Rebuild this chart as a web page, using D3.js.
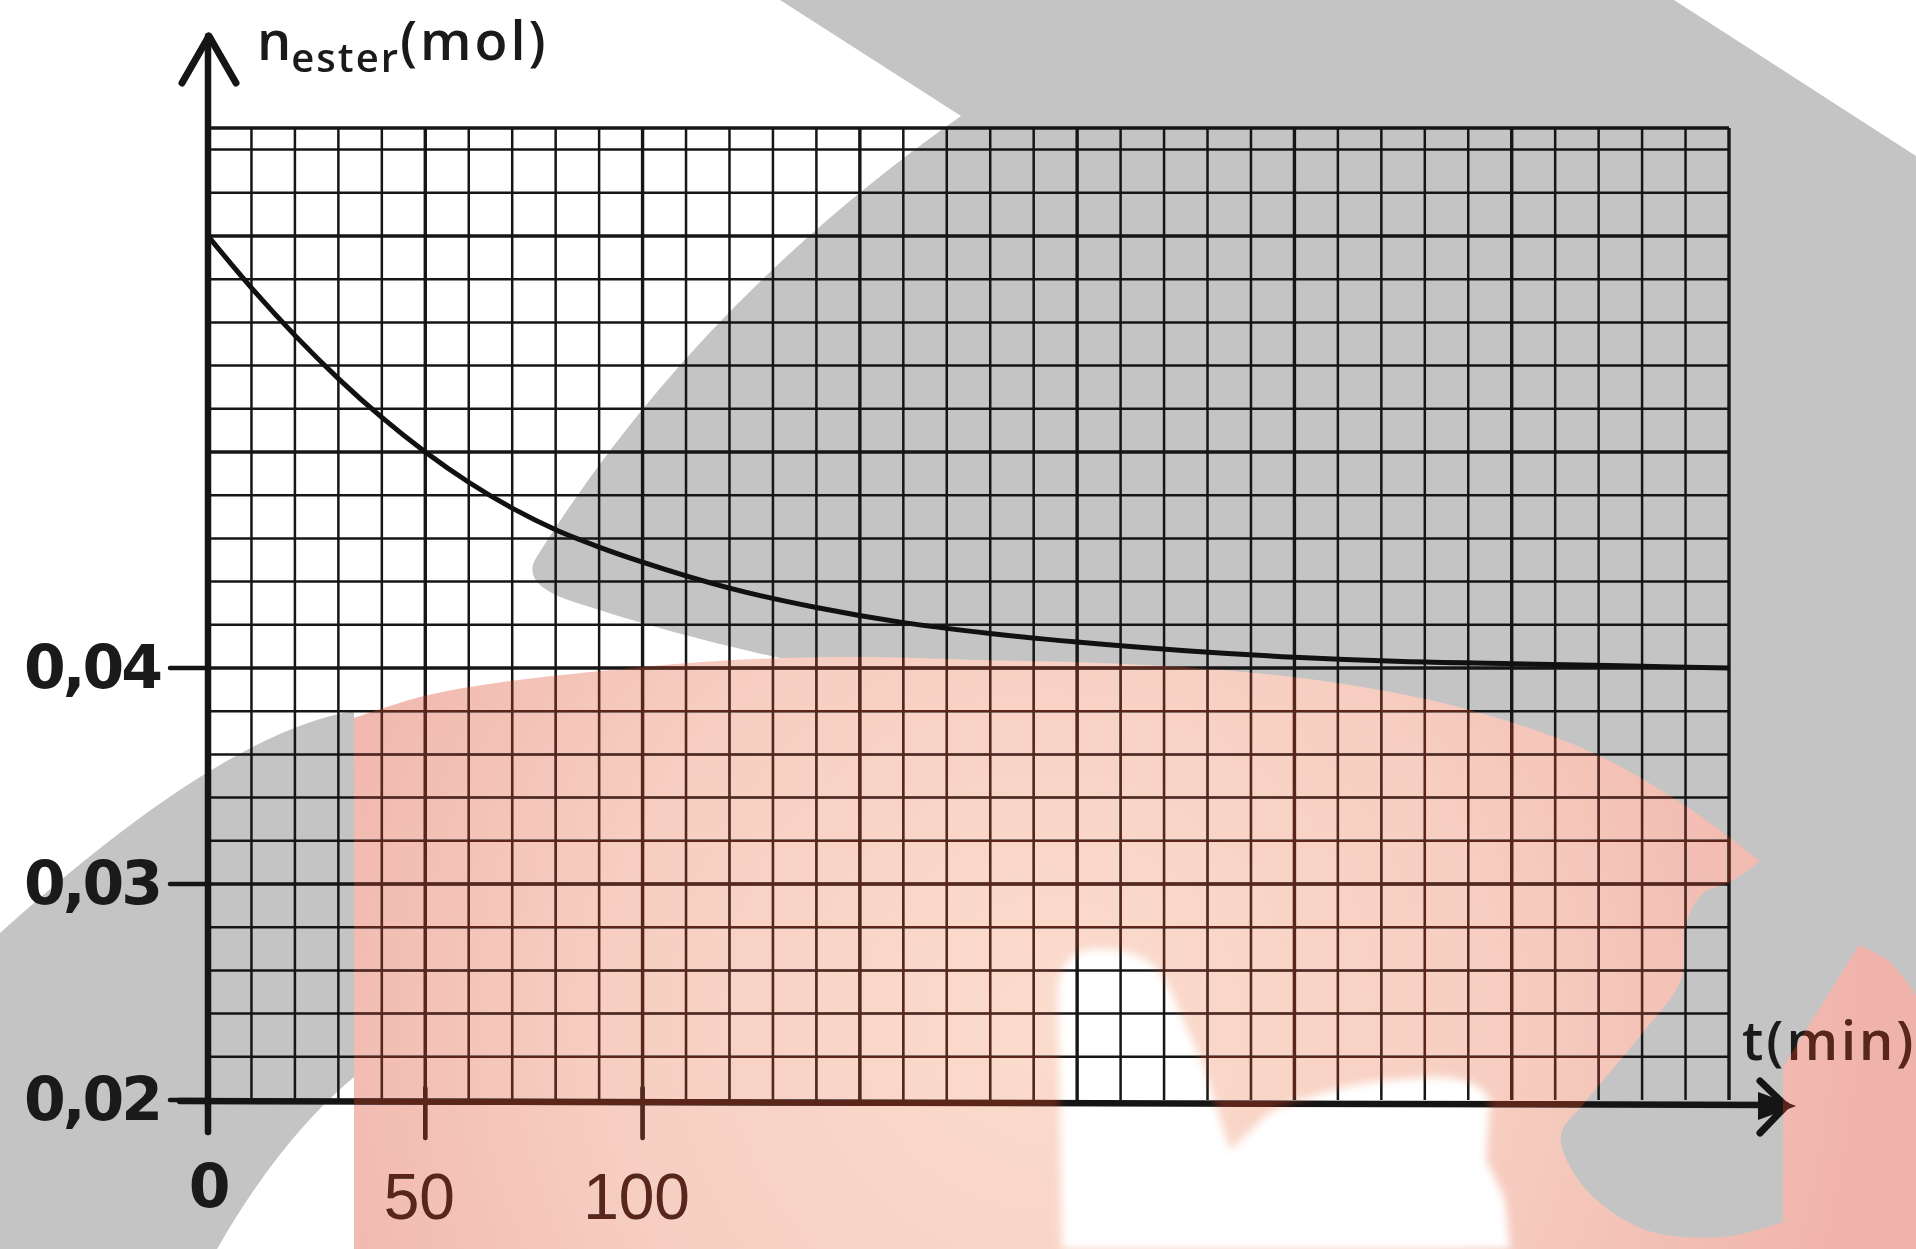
<!DOCTYPE html>
<html>
<head>
<meta charset="utf-8">
<script src="https://d3js.org/d3.v7.min.js"></script>
<style>
  body { margin: 0; background: #fff; }
  svg { display: block; }
  .ylbl { font-family: "DejaVu Sans", sans-serif; font-weight: bold; font-size: 60px; letter-spacing: -3px; fill: #1a1a1a; }
  .xlbl { font-family: "Liberation Sans", Arial, sans-serif; font-size: 64px; fill: #1a1a1a; }
  .title { font-family: "Open Sans", sans-serif; font-weight: 600; fill: #1a1a1a; }
</style>
</head>
<body>
<script>
// t (min) and n_ester (mol)
var tMin   = [0, 10, 20, 30, 40, 50, 60, 70, 80, 90, 100, 120, 140, 160, 180, 200, 225, 250, 275, 300, 325, 350];
var nEster = [0.0600, 0.0576, 0.0554, 0.0534, 0.0516, 0.0500, 0.0486, 0.0474, 0.0464, 0.0456, 0.0449,
              0.0437, 0.0428, 0.0421, 0.0416, 0.0412, 0.0408, 0.0405, 0.0403, 0.0402, 0.0401, 0.0400];

var yTicks = [0.02, 0.03, 0.04];
var yTickLabels = ["0,02", "0,03", "0,04"];
var xTicks = [0, 50, 100];
var xTickLabels = ["0", "50", "100"];

var W = 1916, H = 1249;

var x = d3.scaleLinear().domain([0, 350]).range([208, 1729]);
var y = d3.scaleLinear().domain([0.02, 0.065]).range([1100, 128]);

var svg = d3.select("body").append("svg")
    .attr("width", W)
    .attr("height", H);

var defs = svg.append("defs");

// --- watermark behind the graph paper ---
var grayBig = "M780,0 L1674,0 L1916,156 L1916,1249 L1600,1249 L1540,1140 L1300,800 L900,676 L800,662 " +
    "Q690,640 574,602 Q520,585 536,558 Q695,303 961,116 Z";
var grayLeft = "M0,933 Q223,732 354,711 L354,1077 Q280,1139 217,1249 L0,1249 Z";

var smooth = d3.line().curve(d3.curveCatmullRom);
function seg(pts) { return smooth(pts).replace(/^M/, "L"); }

var pinkPath = "M354,1249 L354,718 " +
    seg([[354,718],[420,697],[489,684],[611,670],[733,660],[855,657],[978,660],[1100,663],[1222,670],
         [1344,684],[1466,709],[1589,751],[1686,806],[1760,861]]) +
    seg([[1760,861],[1730,882],[1702,894],[1686,925],[1681,980],[1645,1030],[1587,1100],[1561,1135],
         [1575,1175],[1613,1213],[1660,1234],[1730,1236],[1783,1222]]) +
    " L1783,1067 L1859,945 " +
    seg([[1859,945],[1890,962],[1916,995]]) +
    " L1916,1249 Z";

var thumb = "M1062,1249 L1058,1000 C1056,968 1070,950 1095,949 C1135,948 1160,962 1170,990 " +
    "L1204,1067 L1230,1150 L1270,1112 C1310,1094 1360,1080 1408,1079 C1450,1073 1480,1080 1490,1100 " +
    "L1486,1160 L1505,1200 L1510,1249 Z";

var grad = defs.append("radialGradient")
    .attr("id", "pinkGrad")
    .attr("gradientUnits", "userSpaceOnUse")
    .attr("cx", 1050).attr("cy", 1020).attr("r", 820);
grad.append("stop").attr("offset", "0").attr("stop-color", "#fbdccd");
grad.append("stop").attr("offset", "0.55").attr("stop-color", "#f7cec1");
grad.append("stop").attr("offset", "1").attr("stop-color", "#f0b3ab");

defs.append("filter").attr("id", "soft")
    .attr("x", "-10%").attr("y", "-10%").attr("width", "120%").attr("height", "120%")
  .append("feGaussianBlur").attr("stdDeviation", 4);

var mask = defs.append("mask").attr("id", "noThumb")
    .attr("maskUnits", "userSpaceOnUse")
    .attr("x", 0).attr("y", 0).attr("width", W).attr("height", H);
mask.append("rect").attr("width", W).attr("height", H).attr("fill", "#fff");
mask.append("path").attr("d", thumb).attr("fill", "#000").attr("filter", "url(#soft)");

var bg = svg.append("g");
bg.append("path").attr("d", grayBig).attr("fill", "#c4c4c4");
bg.append("path").attr("d", grayLeft).attr("fill", "#c4c4c4");
bg.append("path").attr("d", pinkPath).attr("fill", "url(#pinkGrad)");
bg.append("path").attr("d", thumb).attr("fill", "#ffffff").attr("filter", "url(#soft)");

// --- graph paper ---
var grid = svg.append("g").attr("stroke", "#161616");

d3.range(1, 36).forEach(function(i) {
  var t = i * 10;
  grid.append("line")
      .attr("x1", x(t)).attr("x2", x(t))
      .attr("y1", y(0.02)).attr("y2", y(0.065))
      .attr("stroke-width", t % 50 === 0 ? 3.4 : 2.5);
});

var hRows = d3.range(1, 23).map(function(i) { return { v: 0.02 + i * 0.002, major: i % 5 === 0 }; });
hRows.push({ v: 0.065, major: true });
hRows.forEach(function(r) {
  grid.append("line")
      .attr("x1", x(0)).attr("x2", x(350))
      .attr("y1", y(r.v)).attr("y2", y(r.v))
      .attr("stroke-width", r.major ? 3.4 : 2.5);
});

// --- curve ---
var curve = d3.line()
    .x(function(d) { return x(d[0]); })
    .y(function(d) { return y(d[1]); })
    .curve(d3.curveMonotoneX);

svg.append("path")
    .datum(tMin.map(function(t, i) { return [t, nEster[i]]; }))
    .attr("d", curve)
    .attr("fill", "none")
    .attr("stroke", "#111")
    .attr("stroke-width", 5);

// --- axes ---
var axes = svg.append("g").attr("stroke", "#151515").attr("fill", "none").attr("stroke-linecap", "round");

axes.append("line")
    .attr("x1", x(0)).attr("x2", x(0))
    .attr("y1", 36).attr("y2", 1132)
    .attr("stroke-width", 6.5);
axes.append("path")
    .attr("d", "M" + (x(0) - 26) + ",83 L" + (x(0) + 1) + ",36 L" + (x(0) + 28) + ",83")
    .attr("stroke-width", 7).attr("stroke-linejoin", "round");

axes.append("line")
    .attr("x1", 180).attr("x2", 1786)
    .attr("y1", y(0.02) + 1).attr("y2", y(0.02) + 5)
    .attr("stroke-width", 6.5);
axes.append("path")
    .attr("d", "M1760,1081 L1786,1106 L1760,1133")
    .attr("stroke-width", 7).attr("stroke-linejoin", "round");
svg.append("path")
    .attr("d", "M1758,1092 L1796,1106 L1758,1120 Z")
    .attr("fill", "#151515");

yTicks.forEach(function(v) {
  axes.append("line")
      .attr("x1", 170).attr("x2", x(0))
      .attr("y1", y(v)).attr("y2", y(v))
      .attr("stroke-width", 4.5);
});
xTicks.slice(1).forEach(function(t) {
  axes.append("line")
      .attr("x1", x(t)).attr("x2", x(t))
      .attr("y1", y(0.02) - 12).attr("y2", y(0.02) + 38)
      .attr("stroke-width", 4.5);
});

// --- tick labels ---
yTicks.forEach(function(v, i) {
  svg.append("text")
      .attr("class", "ylbl")
      .attr("x", 160)
      .attr("y", y(v) + 20)
      .attr("text-anchor", "end")
      .text(yTickLabels[i]);
});
xTicks.forEach(function(t, i) {
  svg.append("text")
      .attr("class", i === 0 ? "ylbl" : "xlbl")
      .attr("x", x(t) - (i === 0 ? 0 : 6))
      .attr("y", i === 0 ? 1207 : 1219)
      .attr("text-anchor", "middle")
      .text(xTickLabels[i]);
});

// --- axis titles ---
var yt = svg.append("text").attr("class", "title").attr("x", 257).attr("y", 60);
yt.append("tspan").style("font-size", "54px").text("n");
yt.append("tspan").style("font-size", "40px").style("letter-spacing", "2px").attr("dy", 12).text("ester");
yt.append("tspan").style("font-size", "54px").style("letter-spacing", "3px").attr("dy", -12).text("(mol)");

svg.append("text")
    .attr("class", "title")
    .attr("x", 1742).attr("y", 1060)
    .style("font-size", "54px")
    .style("letter-spacing", "3px")
    .text("t(min)");

// --- pink tint over the ink ---
svg.append("path")
    .attr("d", pinkPath)
    .attr("fill", "#5c2519")
    .attr("mask", "url(#noThumb)")
    .style("mix-blend-mode", "lighten");
</script>
</body>
</html>
